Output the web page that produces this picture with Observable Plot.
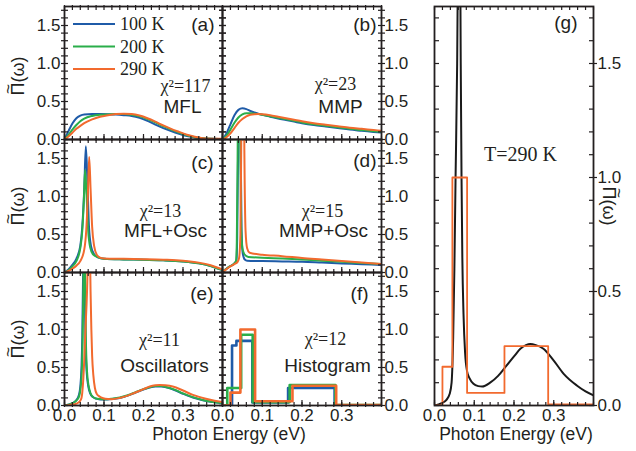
<!DOCTYPE html>
<html><head><meta charset="utf-8">
<script src="https://cdn.jsdelivr.net/npm/d3@7"></script>
<script src="https://cdn.jsdelivr.net/npm/@observablehq/plot@0.6"></script>
<style>
body{margin:0;background:#fff;}
#chart{position:relative;width:636px;height:451px;overflow:hidden;font-family:"Liberation Sans",Arial,sans-serif;color:#231f20;background:#fff;}
.panel{position:absolute;}
.panel svg{overflow:visible;}
.lbl{position:absolute;white-space:nowrap;transform:translate(-50%,-50%);line-height:1;}
.pi{position:relative;display:inline-block;}
.tl{position:absolute;left:50%;top:-0.55em;transform:translateX(-50%);font-size:0.95em;}
</style></head><body><div id="chart"></div>
<script>
// ---------- data ----------
const temps = ["100 K", "200 K", "290 K"];
const panelTags = ["(a)", "(b)", "(c)", "(d)", "(e)", "(f)", "(g)"];
const chiTexts = ["χ²=117", "χ²=23", "χ²=13", "χ²=15", "χ²=11", "χ²=12"];
const modelNames = ["MFL", "MMP", "MFL+Osc", "MMP+Osc", "Oscillators", "Histogram"];
const gNote = "T=290 K";

const yMajor = [0, 0.5, 1.0, 1.5];
const yMinor = [0, 0.1, 0.2, 0.3, 0.4, 0.5, 0.6, 0.7, 0.8, 0.9, 1.0, 1.1, 1.2, 1.3, 1.4, 1.5, 1.6, 1.7];
const xMajor = [0, 0.1, 0.2, 0.3];
const xMinor = [0, 0.02, 0.04, 0.06, 0.08, 0.1, 0.12, 0.14, 0.16, 0.18, 0.2, 0.22, 0.24, 0.26, 0.28, 0.3, 0.32, 0.34, 0.36, 0.38, 0.4];

// (a) MFL
const xa = [0, 0.01, 0.02, 0.03, 0.04, 0.05, 0.07, 0.09, 0.11, 0.13, 0.15, 0.17, 0.19, 0.21, 0.23, 0.25, 0.27, 0.29, 0.31, 0.33, 0.35, 0.37, 0.39, 0.4];
const mfl100 = [0, 0.11, 0.21, 0.28, 0.315, 0.33, 0.335, 0.335, 0.333, 0.328, 0.32, 0.31, 0.285, 0.245, 0.195, 0.15, 0.11, 0.075, 0.045, 0.025, 0.014, 0.01, 0.008, 0.008];
const mfl200 = [0, 0.06, 0.13, 0.19, 0.24, 0.275, 0.31, 0.325, 0.33, 0.335, 0.335, 0.325, 0.305, 0.27, 0.225, 0.175, 0.13, 0.09, 0.055, 0.03, 0.016, 0.01, 0.008, 0.008];
const mfl290 = [0, 0.04, 0.09, 0.14, 0.18, 0.215, 0.265, 0.3, 0.32, 0.335, 0.34, 0.335, 0.315, 0.28, 0.235, 0.185, 0.14, 0.1, 0.062, 0.035, 0.018, 0.011, 0.009, 0.009];

// (b) MMP
const xb = [0, 0.01, 0.02, 0.03, 0.04, 0.05, 0.06, 0.07, 0.08, 0.09, 0.1, 0.12, 0.14, 0.16, 0.18, 0.2, 0.23, 0.26, 0.29, 0.32, 0.35, 0.38, 0.4];
const mmp100 = [0, 0.08, 0.2, 0.32, 0.39, 0.41, 0.4, 0.375, 0.355, 0.34, 0.325, 0.3, 0.275, 0.255, 0.235, 0.215, 0.19, 0.17, 0.15, 0.13, 0.115, 0.1, 0.09];
const mmp200 = [0, 0.05, 0.13, 0.22, 0.29, 0.33, 0.345, 0.345, 0.34, 0.335, 0.325, 0.305, 0.285, 0.265, 0.245, 0.225, 0.2, 0.18, 0.16, 0.14, 0.125, 0.11, 0.1];
const mmp290 = [0, 0.03, 0.08, 0.15, 0.22, 0.27, 0.305, 0.325, 0.333, 0.335, 0.333, 0.32, 0.3, 0.28, 0.26, 0.24, 0.215, 0.195, 0.175, 0.155, 0.14, 0.125, 0.115];

// (c) MFL+Osc
const c100x = [0, 0.01, 0.02, 0.03, 0.04, 0.045, 0.05, 0.054, 0.058, 0.062, 0.067, 0.075, 0.085, 0.1, 0.15, 0.2, 0.25, 0.3, 0.34, 0.37, 0.39, 0.4];
const c100y = [0, 0.04, 0.1, 0.18, 0.35, 0.6, 1.1, 1.66, 1.2, 0.6, 0.35, 0.24, 0.2, 0.18, 0.172, 0.168, 0.16, 0.145, 0.12, 0.085, 0.05, 0.03];
const c200x = [0, 0.01, 0.02, 0.03, 0.04, 0.045, 0.049, 0.052, 0.056, 0.06, 0.065, 0.072, 0.085, 0.1, 0.15, 0.2, 0.25, 0.3, 0.34, 0.37, 0.39, 0.4];
const c200y = [0, 0.03, 0.08, 0.15, 0.32, 0.55, 0.95, 1.35, 1.0, 0.55, 0.33, 0.24, 0.2, 0.18, 0.172, 0.168, 0.16, 0.145, 0.12, 0.085, 0.05, 0.035];
const c290x = [0, 0.01, 0.02, 0.03, 0.04, 0.05, 0.055, 0.059, 0.0625, 0.066, 0.07, 0.075, 0.082, 0.09, 0.1, 0.15, 0.2, 0.25, 0.3, 0.34, 0.37, 0.39, 0.4];
const c290y = [0, 0.02, 0.05, 0.09, 0.15, 0.3, 0.55, 1.0, 1.52, 1.1, 0.6, 0.35, 0.23, 0.195, 0.185, 0.18, 0.175, 0.168, 0.155, 0.13, 0.095, 0.06, 0.04];

// (d) MMP+Osc
const d100x = [0, 0.005, 0.01, 0.02, 0.03, 0.035, 0.037, 0.039, 0.041, 0.044, 0.046, 0.048, 0.051, 0.056, 0.062, 0.1, 0.15, 0.2, 0.25, 0.3, 0.35, 0.4];
const d100y = [0, 0.03, 0.05, 0.085, 0.12, 0.16, 0.45, 1.5, 3, 3, 1.5, 0.55, 0.25, 0.17, 0.155, 0.15, 0.145, 0.14, 0.13, 0.12, 0.11, 0.1];
const d200x = [0, 0.005, 0.01, 0.02, 0.03, 0.034, 0.036, 0.038, 0.04, 0.043, 0.045, 0.047, 0.05, 0.055, 0.065, 0.1, 0.15, 0.2, 0.25, 0.3, 0.35, 0.4];
const d200y = [0, 0.03, 0.05, 0.085, 0.12, 0.15, 0.4, 1.5, 3, 3, 1.5, 0.6, 0.32, 0.24, 0.205, 0.195, 0.183, 0.17, 0.155, 0.14, 0.125, 0.11];
const d290x = [0, 0.005, 0.01, 0.02, 0.03, 0.038, 0.042, 0.045, 0.047, 0.049, 0.053, 0.055, 0.058, 0.062, 0.068, 0.075, 0.1, 0.15, 0.2, 0.25, 0.3, 0.35, 0.4];
const d290y = [0, 0.025, 0.045, 0.08, 0.11, 0.14, 0.2, 0.5, 1.6, 3, 3, 1.6, 0.55, 0.32, 0.26, 0.25, 0.235, 0.215, 0.19, 0.17, 0.15, 0.13, 0.112];

// (e) Oscillators, (g) black curve = 290 K oscillators
const e100x = [0, 0.01, 0.02, 0.03, 0.036, 0.04, 0.043, 0.045, 0.047, 0.049, 0.051, 0.053, 0.056, 0.06, 0.065, 0.072, 0.08, 0.09, 0.1, 0.12, 0.14, 0.16, 0.18, 0.2, 0.215, 0.23, 0.245, 0.26, 0.28, 0.3, 0.325, 0.35, 0.375, 0.4];
const e100y = [0, 0.01, 0.03, 0.07, 0.13, 0.25, 0.5, 0.9, 1.7, 3, 1.7, 0.9, 0.45, 0.26, 0.16, 0.11, 0.09, 0.08, 0.078, 0.085, 0.1, 0.13, 0.17, 0.21, 0.235, 0.25, 0.25, 0.235, 0.2, 0.155, 0.105, 0.07, 0.045, 0.03];
const e200x = [0, 0.01, 0.02, 0.03, 0.037, 0.041, 0.044, 0.046, 0.048, 0.05, 0.052, 0.054, 0.057, 0.061, 0.066, 0.073, 0.08, 0.09, 0.1, 0.12, 0.14, 0.16, 0.18, 0.2, 0.215, 0.23, 0.245, 0.26, 0.28, 0.3, 0.325, 0.35, 0.375, 0.4];
const e200y = [0, 0.01, 0.03, 0.065, 0.12, 0.24, 0.48, 0.88, 1.7, 3, 1.7, 0.9, 0.45, 0.26, 0.16, 0.11, 0.092, 0.085, 0.082, 0.09, 0.105, 0.135, 0.175, 0.215, 0.24, 0.255, 0.255, 0.24, 0.205, 0.16, 0.11, 0.072, 0.047, 0.032];
const osc290x = [0, 0.01, 0.02, 0.03, 0.038, 0.043, 0.047, 0.05, 0.053, 0.057, 0.06, 0.062, 0.064, 0.066, 0.068, 0.07, 0.073, 0.077, 0.082, 0.088, 0.098, 0.11, 0.12, 0.14, 0.16, 0.178, 0.2, 0.216, 0.23, 0.241, 0.255, 0.274, 0.3, 0.325, 0.358, 0.38, 0.4];
const osc290y = [0, 0.005, 0.012, 0.025, 0.05, 0.1, 0.3, 0.6, 1.0, 1.5, 2.2, 3, 2.2, 1.5, 1.0, 0.65, 0.4, 0.23, 0.15, 0.12, 0.095, 0.085, 0.083, 0.1, 0.13, 0.168, 0.215, 0.249, 0.265, 0.27, 0.265, 0.249, 0.197, 0.139, 0.088, 0.062, 0.044];

// (f) Histograms (bin edges and bin values)
const h100Edges = [0, 0.024, 0.035, 0.075, 0.165, 0.282, 0.4];
const h100 = [0, 0.79, 0.85, 0.04, 0.23, 0.0];
const h200Edges = [0, 0.012, 0.047, 0.076, 0.169, 0.284, 0.4];
const h200 = [0, 0.23, 0.93, 0.045, 0.27, 0.005];
const h290Edges = [0, 0.02, 0.045, 0.082, 0.176, 0.286, 0.4];
const h290 = [0, 0.17, 1.0, 0.055, 0.26, 0.005];

// ---------- style ----------
const INK = "#231f20";
const BLUE = "#1f5ba8", GREEN = "#2aae4a", ORANGE = "#f26a2e", BLACK = "#1a1a1a";
const SANS = "Liberation Sans, Arial, Helvetica, sans-serif";
const SERIF = "Liberation Serif, Times New Roman, serif";
const fmt = d3.format(".1f");

const pts = (xs, ys) => xs.map((x, i) => ({x, y: ys[i]}));
const steps = (edges, vals) => edges.map((x, i) => ({x, y: vals[Math.min(i, vals.length - 1)]}));

const chart = document.getElementById("chart");

function makePanel({left, top, w, h, curves = [], hists = [], ySide = "left", xLabels = false, big = false, notes = []}) {
  const tk = {stroke: INK, fill: "none", strokeWidth: 1.2, label: null};
  const marks = [];
  for (const c of curves) {
    marks.push(Plot.line(pts(c.x, c.y), {x: "x", y: "y", stroke: c.color, strokeWidth: c.width || 2, curve: "monotone-x", clip: true}));
  }
  for (const hh of hists) {
    marks.push(Plot.line(steps(hh.edges, hh.vals), {x: "x", y: "y", stroke: hh.color, strokeWidth: hh.width || 2.6, curve: "step-after", clip: true}));
  }
  if (big) {
    marks.push(
      Plot.axisY(yMinor, {...tk, anchor: "left", tickSize: -5}),
      Plot.axisY(yMinor, {...tk, anchor: "right", tickSize: -5}),
      Plot.axisX(xMinor, {...tk, anchor: "top", tickSize: -3}),
      Plot.axisX(xMinor, {...tk, anchor: "bottom", tickSize: -3}),
      Plot.axisX(xMajor, {...tk, anchor: "bottom", tickSize: -5}),
      Plot.axisY(yMajor, {anchor: "right", tickSize: 3, tickPadding: 1, stroke: INK, fill: INK, strokeWidth: 1.2, label: null, tickFormat: fmt})
    );
  } else {
    marks.push(
      Plot.axisY(yMinor, {...tk, anchor: "left", tickSize: 3}),
      Plot.axisY(yMinor, {...tk, anchor: "left", tickSize: -4}),
      Plot.axisY(yMinor, {...tk, anchor: "right", tickSize: 3}),
      Plot.axisY(yMinor, {...tk, anchor: "right", tickSize: -4}),
      Plot.axisX(xMinor, {...tk, anchor: "top", tickSize: 2}),
      Plot.axisX(xMinor, {...tk, anchor: "top", tickSize: -3}),
      Plot.axisX(xMinor, {...tk, anchor: "bottom", tickSize: -3}),
      Plot.axisX(xMajor, {...tk, anchor: "bottom", tickSize: -5}),
      Plot.axisX(xMinor, {...tk, anchor: "bottom", tickSize: 2}),
      Plot.axisY(yMajor, {anchor: ySide, tickSize: 0, tickPadding: ySide === "left" ? 4 : 3, fill: INK, label: null, tickFormat: fmt})
    );
  }
  if (xLabels) {
    marks.push(Plot.axisX(xMajor, {anchor: "bottom", tickSize: 0, tickPadding: 3, fill: INK, label: null, tickFormat: fmt}));
  }
  for (const n of notes) {
    marks.push(Plot.text([n.text], {
      text: d => d, frameAnchor: n.frame || "top-left", dx: n.dx, dy: n.dy,
      textAnchor: n.anchor || "middle", lineAnchor: "middle",
      fontFamily: n.serif ? SERIF : SANS, fontSize: n.size || 19, fill: INK
    }));
  }
  marks.push(Plot.frame({stroke: INK, strokeWidth: 1.8}));
  const svg = Plot.plot({
    width: w, height: h, margin: 0,
    x: {domain: [0, 0.4], axis: null},
    y: {domain: [0, 1.75], axis: null},
    style: {fontFamily: SANS, fontSize: "17px", color: INK, background: "transparent", overflow: "visible", maxWidth: "none"},
    marks
  });
  const div = document.createElement("div");
  div.className = "panel";
  div.style.left = left + "px";
  div.style.top = top + "px";
  div.appendChild(svg);
  chart.appendChild(div);
  return svg;
}

const tagNote = (i, dx, dy) => ({text: panelTags[i], frame: "top-right", dx, dy, anchor: "end", size: 19});
const chiNote = (i, dx, dy) => ({text: chiTexts[i], dx, dy, serif: true, size: 18});
const modelNote = (i, dx, dy) => ({text: modelNames[i], dx, dy, size: 19});

// (a)
const svgA = makePanel({left: 64, top: 6, w: 158, h: 133,
  curves: [{x: xa, y: mfl100, color: BLUE}, {x: xa, y: mfl200, color: GREEN}, {x: xa, y: mfl290, color: ORANGE}],
  notes: [tagNote(0, -8, 18), chiNote(0, 121, 80), modelNote(0, 118, 100)]});
// (b)
makePanel({left: 222, top: 6, w: 159, h: 133, ySide: "right",
  curves: [{x: xb, y: mmp100, color: BLUE}, {x: xb, y: mmp200, color: GREEN}, {x: xb, y: mmp290, color: ORANGE}],
  notes: [tagNote(1, -5, 18), chiNote(1, 113, 78), modelNote(1, 118, 100)]});
// (c)
makePanel({left: 64, top: 139, w: 158, h: 133,
  curves: [{x: c100x, y: c100y, color: BLUE}, {x: c200x, y: c200y, color: GREEN}, {x: c290x, y: c290y, color: ORANGE}],
  notes: [tagNote(2, -9, 23), chiNote(2, 96, 72), modelNote(2, 101, 91)]});
// (d)
makePanel({left: 222, top: 139, w: 159, h: 133, ySide: "right",
  curves: [{x: d100x, y: d100y, color: BLUE}, {x: d200x, y: d200y, color: GREEN}, {x: d290x, y: d290y, color: ORANGE}],
  notes: [tagNote(3, -5, 21), chiNote(3, 100, 72), modelNote(3, 101, 91)]});
// (e)
makePanel({left: 64, top: 272, w: 158, h: 133, xLabels: true,
  curves: [{x: e100x, y: e100y, color: BLUE}, {x: e200x, y: e200y, color: GREEN}, {x: osc290x, y: osc290y, color: ORANGE}],
  notes: [tagNote(4, -9, 21), chiNote(4, 95, 68), modelNote(4, 100, 93)]});
// (f)
makePanel({left: 222, top: 272, w: 159, h: 133, ySide: "right", xLabels: true,
  hists: [{edges: h100Edges, vals: h100, color: BLUE}, {edges: h200Edges, vals: h200, color: GREEN}, {edges: h290Edges, vals: h290, color: ORANGE}],
  notes: [tagNote(5, -13, 21), chiNote(5, 103, 67), modelNote(5, 105, 93)]});
// (g)
makePanel({left: 434, top: 6, w: 159, h: 399, big: true, xLabels: true,
  curves: [{x: osc290x, y: osc290y, color: BLACK, width: 2}],
  hists: [{edges: h290Edges, vals: h290, color: ORANGE, width: 1.8}],
  notes: [tagNote(6, -16, 16), {text: gNote, dx: 86, dy: 148, serif: true, size: 20}]});

// legend inside (a)
const colors = [BLUE, GREEN, ORANGE];
const lg = d3.select(svgA).append("g").attr("text-anchor", "start");
temps.forEach((t, i) => {
  const yy = 18 + i * 22.5;
  lg.append("line").attr("x1", 9).attr("x2", 51).attr("y1", yy).attr("y2", yy)
    .attr("stroke", colors[i]).attr("stroke-width", 2);
  lg.append("text").attr("x", 56).attr("y", yy).attr("dy", "0.35em").attr("text-anchor", "start")
    .attr("font-family", SERIF).attr("font-size", 18).attr("fill", INK).text(t);
});

// axis titles
function label(html, x, y, size, rot) {
  const d = document.createElement("div");
  d.className = "lbl";
  d.style.left = x + "px";
  d.style.top = y + "px";
  d.style.fontSize = size + "px";
  if (rot) d.style.transform = `translate(-50%,-50%) rotate(${rot}deg)`;
  d.innerHTML = html;
  chart.appendChild(d);
}
const piLabel = '<span class="pi">Π<span class="tl">~</span></span>(ω)';
label(piLabel, 18, 76, 18, -90);
label(piLabel, 18, 206, 18, -90);
label(piLabel, 18, 339, 18, -90);
label(piLabel, 609, 206, 18, 90);
label("Photon Energy (eV)", 229, 435, 17.5, 0);
label("Photon Energy (eV)", 516, 435, 17.5, 0);
</script></body></html>
